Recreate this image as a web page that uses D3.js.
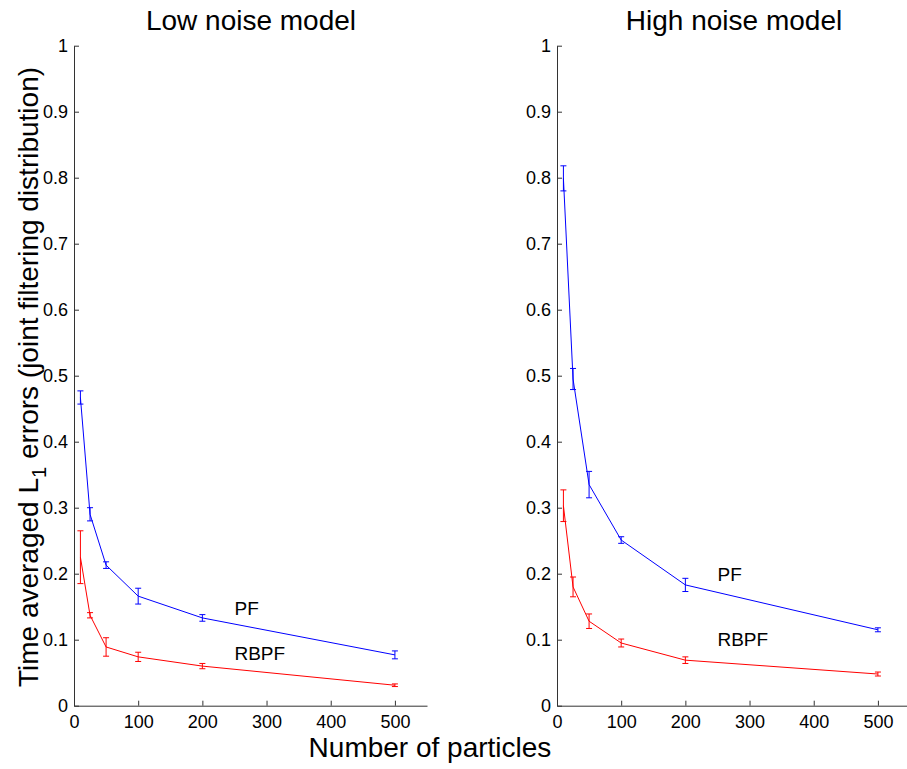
<!DOCTYPE html>
<html>
<head>
<meta charset="utf-8">
<script src="https://cdn.jsdelivr.net/npm/d3@7"></script>
<style>
  body { margin: 0; background: #fff; }
  svg text { font-family: "Liberation Sans", Arial, sans-serif; fill: #000; }
</style>
</head>
<body>
<div id="chart"></div>
<script>
// particle counts on the x axis
const particles = [10, 25, 50, 100, 200, 500];

// low noise model
const lowPF = [0.467, 0.290, 0.213, 0.166, 0.133, 0.077];
const lowPFerr = [0.010, 0.010, 0.005, 0.012, 0.005, 0.006];
const lowRBPF = [0.225, 0.137, 0.089, 0.074, 0.060, 0.031];
const lowRBPFerr = [0.040, 0.004, 0.014, 0.007, 0.004, 0.002];

// high noise model
const highPF = [0.799, 0.495, 0.335, 0.251, 0.183, 0.115];
const highPFerr = [0.019, 0.016, 0.020, 0.005, 0.010, 0.003];
const highRBPF = [0.303, 0.180, 0.128, 0.095, 0.069, 0.048];
const highRBPFerr = [0.024, 0.015, 0.011, 0.006, 0.005, 0.003];

const xTicks = [0, 100, 200, 300, 400, 500];
const yTicks = [0, 0.1, 0.2, 0.3, 0.4, 0.5, 0.6, 0.7, 0.8, 0.9, 1];

const panels = [
  { title: "Low noise model", left: 74, pf: lowPF, pfErr: lowPFerr, rb: lowRBPF, rbErr: lowRBPFerr,
    pfLabel: [250, 0.148], rbLabel: [250, 0.08] },
  { title: "High noise model", left: 557, pf: highPF, pfErr: highPFerr, rb: highRBPF, rbErr: highRBPFerr,
    pfLabel: [250, 0.199], rbLabel: [250, 0.1] }
];

const W = 907, H = 769;
const plotTop = 45.7, plotBottom = 705.7, plotW = 353;

const svg = d3.select("#chart").append("svg")
  .attr("width", W).attr("height", H);

panels.forEach(p => {
  const x = d3.scaleLinear().domain([0, 550]).range([p.left, p.left + plotW]);
  const y = d3.scaleLinear().domain([0, 1]).range([plotBottom, plotTop]);
  const g = svg.append("g");

  const xAxis = g.append("g")
    .attr("transform", `translate(0,${plotBottom})`)
    .call(d3.axisBottom(x).tickValues(xTicks).tickSizeInner(-5).tickSizeOuter(0).tickPadding(10)
      .tickFormat(d3.format("d")));
  const yAxis = g.append("g")
    .attr("transform", `translate(${p.left},0)`)
    .call(d3.axisLeft(y).tickValues(yTicks).tickSizeInner(-5).tickSizeOuter(0).tickPadding(6)
      .tickFormat(d => (d === 0 || d === 1) ? d : d.toFixed(1)));

  [xAxis, yAxis].forEach(a => {
    a.select(".domain").attr("stroke", "#333");
    a.selectAll(".tick line").attr("stroke", "#333");
    a.selectAll(".tick text").style("font-size", "18px").attr("fill", "#000");
  });

  g.append("text")
    .attr("x", p.left + 177)
    .attr("y", 30)
    .attr("text-anchor", "middle")
    .style("font-size", "28px")
    .text(p.title);

  const series = [
    { vals: p.pf, err: p.pfErr, color: "#0000ff" },
    { vals: p.rb, err: p.rbErr, color: "#ff0000" }
  ];

  series.forEach(s => {
    const pts = particles.map((n, i) => ({ n, v: s.vals[i], e: s.err[i] }));
    g.append("path")
      .datum(pts)
      .attr("fill", "none")
      .attr("stroke", s.color)
      .attr("stroke-width", 1)
      .attr("d", d3.line().x(d => x(d.n)).y(d => y(d.v)));

    const eb = g.selectAll(null).data(pts).enter().append("g")
      .attr("stroke", s.color).attr("stroke-width", 1);
    eb.append("line")
      .attr("x1", d => x(d.n)).attr("x2", d => x(d.n))
      .attr("y1", d => y(d.v - d.e)).attr("y2", d => y(d.v + d.e));
    eb.append("line")
      .attr("x1", d => x(d.n) - 3).attr("x2", d => x(d.n) + 3)
      .attr("y1", d => y(d.v + d.e)).attr("y2", d => y(d.v + d.e));
    eb.append("line")
      .attr("x1", d => x(d.n) - 3).attr("x2", d => x(d.n) + 3)
      .attr("y1", d => y(d.v - d.e)).attr("y2", d => y(d.v - d.e));
  });

  g.append("text")
    .attr("x", x(p.pfLabel[0])).attr("y", y(p.pfLabel[1]))
    .attr("dy", "0.35em")
    .style("font-size", "19px")
    .text("PF");
  g.append("text")
    .attr("x", x(p.rbLabel[0])).attr("y", y(p.rbLabel[1]))
    .attr("dy", "0.35em")
    .style("font-size", "19px")
    .text("RBPF");
});

// shared axis titles
svg.append("text")
  .attr("x", 430).attr("y", 757)
  .attr("text-anchor", "middle")
  .style("font-size", "28px")
  .text("Number of particles");

const yl = svg.append("text")
  .attr("transform", "translate(38,377) rotate(-90)")
  .attr("text-anchor", "middle")
  .style("font-size", "28px");
yl.append("tspan").text("Time averaged L");
yl.append("tspan").attr("dy", 8).style("font-size", "20px").text("1");
yl.append("tspan").attr("dy", -8).text(" errors (joint filtering distribution)");
</script>
</body>
</html>
